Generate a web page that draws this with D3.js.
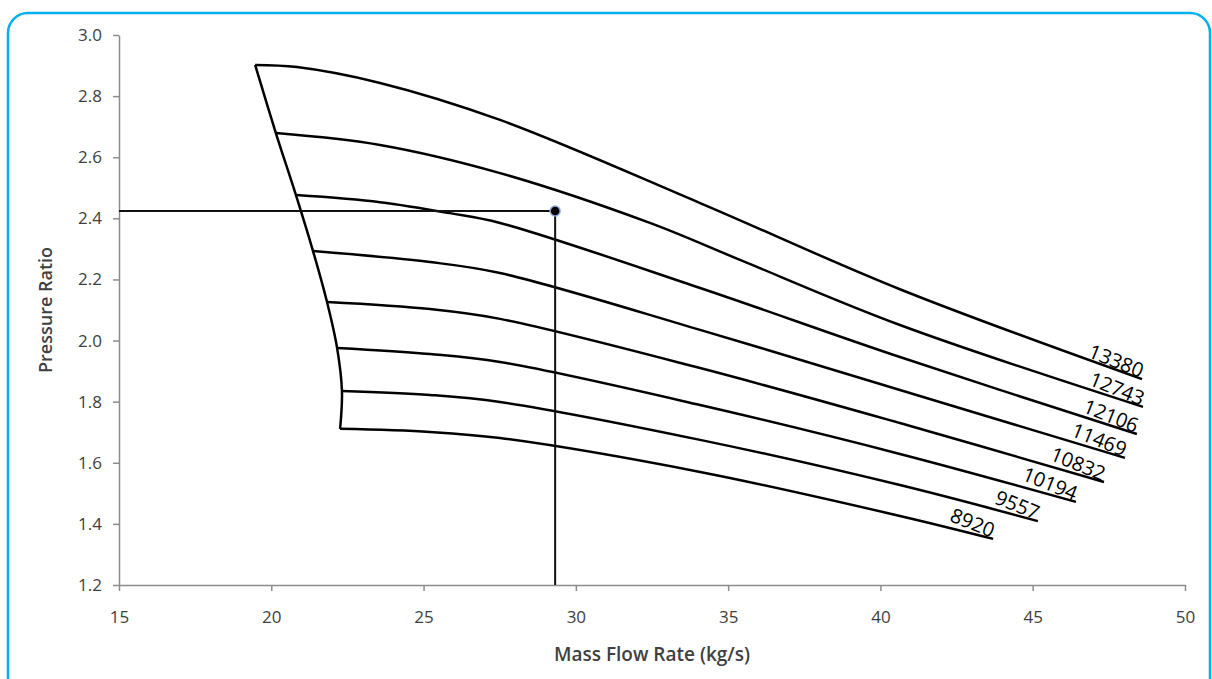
<!DOCTYPE html>
<html>
<head>
<meta charset="utf-8">
<script src="https://cdn.jsdelivr.net/npm/d3@7"></script>
<style>
  body { margin: 0; background: #fff; }
  #chart text { font-family: "Open Sans", Lato, sans-serif; }
</style>
</head>
<body>
<div id="chart"></div>
<script>
// speed lines of the compressor map
const speedLabels = ["13380", "12743", "12106", "11469", "10832", "10194", "9557", "8920"];

const massFlow = [
  [19.47, 20.84, 23.57, 27.51, 34.08, 40.64, 48.59],
  [20.15, 23.57, 27.51, 32.43, 35.39, 40.64, 48.62],
  [20.81, 23.57, 25.87, 27.51, 34.08, 40.64, 48.42],
  [21.37, 25.21, 27.51, 34.08, 40.64, 48.03],
  [21.83, 25.21, 27.51, 34.08, 40.64, 47.34],
  [22.16, 25.21, 27.51, 34.08, 40.64, 46.42],
  [22.32, 25.21, 27.51, 34.08, 40.64, 45.17],
  [22.26, 25.21, 27.51, 34.08, 40.64, 43.70]
];

const pressureRatio = [
  [2.902, 2.895, 2.843, 2.722, 2.450, 2.168, 1.874],
  [2.679, 2.640, 2.548, 2.385, 2.264, 2.051, 1.783],
  [2.476, 2.453, 2.417, 2.385, 2.172, 1.946, 1.694],
  [2.293, 2.257, 2.221, 2.035, 1.838, 1.616],
  [2.126, 2.103, 2.071, 1.910, 1.730, 1.537],
  [1.976, 1.956, 1.930, 1.789, 1.629, 1.472],
  [1.835, 1.822, 1.799, 1.675, 1.527, 1.409],
  [1.711, 1.701, 1.681, 1.570, 1.426, 1.351]
];

// operating point
const opFlow = 29.32;
const opRatio = 2.424;

const xTicks = [15, 20, 25, 30, 35, 40, 45, 50];
const yTicks = [1.2, 1.4, 1.6, 1.8, 2.0, 2.2, 2.4, 2.6, 2.8, 3.0];

const W = 1212, H = 679;
const plot = { left: 119, right: 1185, top: 35, bottom: 585 };

const svg = d3
  .select("#chart")
  .append("svg")
  .attr("width", W)
  .attr("height", H);

// blue rounded frame
svg
  .append("rect")
  .attr("x", 8)
  .attr("y", 13)
  .attr("width", 1202)
  .attr("height", 692)
  .attr("rx", 20)
  .attr("fill", "none")
  .attr("stroke", "#00b0f0")
  .attr("stroke-width", 2.5);

const x = d3.scaleLinear().domain([15, 50]).range([plot.left, plot.right]);
const y = d3.scaleLinear().domain([1.2, 3.0]).range([plot.bottom, plot.top]);

const xAxis = svg
  .append("g")
  .attr("transform", `translate(0, ${plot.bottom})`)
  .call(d3.axisBottom(x).tickValues(xTicks).tickSize(6).tickSizeOuter(0).tickPadding(20));

const yAxis = svg
  .append("g")
  .attr("transform", `translate(${plot.left}, 0)`)
  .call(
    d3
      .axisLeft(y)
      .tickValues(yTicks)
      .tickFormat(d3.format(".1f"))
      .tickSize(6)
      .tickSizeOuter(0)
      .tickPadding(11)
  );

[xAxis, yAxis].forEach((g) => {
  g.select(".domain").attr("stroke", "#8c8c8c").attr("stroke-width", 1.5);
  g.selectAll(".tick line").attr("stroke", "#8c8c8c").attr("stroke-width", 1.5);
  g.selectAll(".tick text")
    .attr("fill", "#404040")
    .style("font-family", "'Open Sans', sans-serif")
    .style("font-size", "17px");
});

svg
  .append("text")
  .attr("x", (plot.left + plot.right) / 2)
  .attr("y", 661)
  .attr("text-anchor", "middle")
  .attr("fill", "#404040")
  .style("font-size", "19px")
  .style("font-weight", 600)
  .text("Mass Flow Rate (kg/s)");

svg
  .append("text")
  .attr("transform", `translate(52, ${(plot.top + plot.bottom) / 2}) rotate(-90)`)
  .attr("text-anchor", "middle")
  .attr("fill", "#404040")
  .style("font-size", "18px")
  .style("font-weight", 600)
  .text("Pressure Ratio");

const line = d3
  .line()
  .curve(d3.curveCatmullRom)
  .x((d) => x(d[0]))
  .y((d) => y(d[1]));

const curves = speedLabels.map((s, i) => massFlow[i].map((f, j) => [f, pressureRatio[i][j]]));

svg
  .append("g")
  .selectAll("path")
  .data(curves)
  .join("path")
  .attr("fill", "none")
  .attr("stroke", "#000")
  .attr("stroke-width", 2.5)
  .attr("d", line);

// surge line through the left end of each speed line
const surge = curves.map((c) => c[0]);
svg
  .append("path")
  .datum(surge)
  .attr("fill", "none")
  .attr("stroke", "#000")
  .attr("stroke-width", 2.5)
  .attr("stroke-linejoin", "round")
  .attr("d", line);

// speed labels at the right end of each line
svg
  .append("g")
  .selectAll("text")
  .data(curves)
  .join("text")
  .attr("transform", (d) => {
    const e = d[d.length - 1];
    return `translate(${x(e[0]) - 2}, ${y(e[1]) - 1}) rotate(22)`;
  })
  .attr("text-anchor", "end")
  .attr("fill", "#000")
  .style("font-size", "20px")
  .text((d, i) => speedLabels[i]);

// guide lines to the operating point
const guides = svg.append("g");
guides
  .append("line")
  .attr("x1", x(15))
  .attr("x2", x(opFlow))
  .attr("y1", y(opRatio))
  .attr("y2", y(opRatio))
  .attr("stroke", "#111")
  .attr("stroke-width", 2);
guides
  .append("line")
  .attr("x1", x(opFlow))
  .attr("x2", x(opFlow))
  .attr("y1", y(opRatio))
  .attr("y2", y(1.2))
  .attr("stroke", "#111")
  .attr("stroke-width", 2);

svg
  .append("circle")
  .attr("cx", x(opFlow))
  .attr("cy", y(opRatio))
  .attr("r", 5)
  .attr("fill", "#000")
  .attr("stroke", "#8faadc")
  .attr("stroke-width", 1.5);
</script>
</body>
</html>
